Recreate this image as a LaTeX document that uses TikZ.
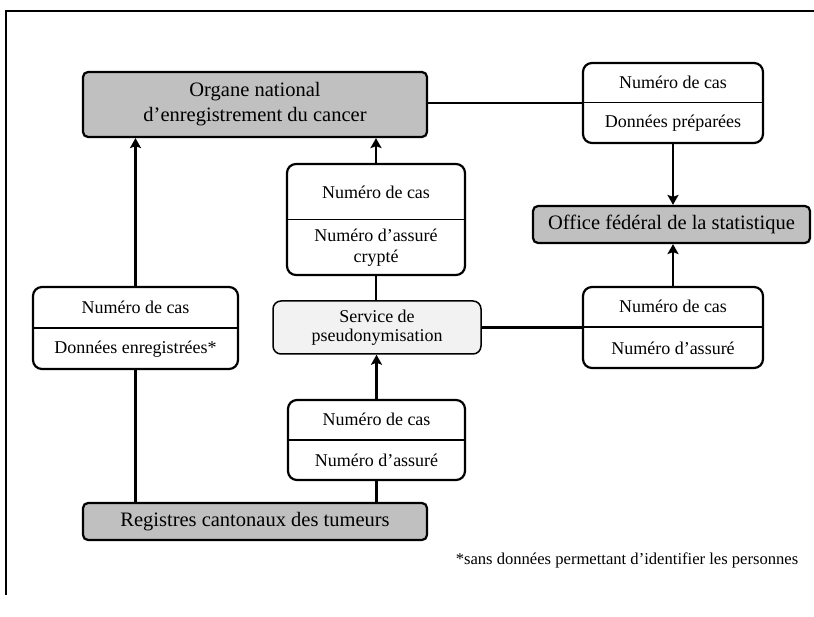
\documentclass[tikz,border=0pt]{standalone}
\usepackage{fontspec}
\setmainfont{Liberation Serif}
\usetikzlibrary{arrows.meta,calc}
\definecolor{boxgray}{HTML}{C0C0C0}
\definecolor{servgray}{HTML}{F2F2F2}
\begin{document}
\begin{tikzpicture}[x=1pt,y=-1pt,
  graybox/.style={draw,line width=2.2pt,fill=boxgray,rounded corners=5pt,inner sep=0pt,
    align=center,font=\fontsize{20.5}{25}\selectfont},
  whitebox/.style={draw,line width=2.2pt,fill=white,rounded corners=9pt,inner sep=0pt},
  servbox/.style={draw,line width=1.5pt,fill=servgray,rounded corners=8pt,inner sep=0pt,
    align=center,font=\fontsize{18}{18.5}\selectfont},
  wtxt/.style={inner sep=0pt,align=center,font=\fontsize{18}{21}\selectfont},
  conn/.style={line width=2.2pt},
  thickconn/.style={line width=3.2pt},
  arr/.style={-{Stealth[length=10pt,width=11pt,inset=2pt]}},
]
\useasboundingbox (0,0) rectangle (814,617);
% frame
\coordinate (frTL) at (6,11);
\coordinate (frTR) at (814,11);
\coordinate (frBL) at (6,595);
\draw[line width=2pt] (frBL) -- (frTL) -- (frTR);

% boxes
\node[graybox,minimum width=344pt,minimum height=65pt] (organe) at (255,104.5)
  {Organe national\\d’enregistrement du cancer};
\node[whitebox,minimum width=180pt,minimum height=80pt] (topr) at (673,103) {};
\node[graybox,minimum width=277pt,minimum height=37pt] (office) at (671.5,224.5)
  {Office fédéral de la statistique};
\node[whitebox,minimum width=178pt,minimum height=111pt] (mid) at (376,219.5) {};
\node[servbox,minimum width=208pt,minimum height=53pt] (serv) at (377,327.5)
  {Service de\\pseudonymisation};
\node[whitebox,minimum width=180pt,minimum height=81pt] (rbox) at (673,327.5) {};
\node[whitebox,minimum width=205pt,minimum height=82pt] (lbox) at (135.5,328) {};
\node[whitebox,minimum width=177pt,minimum height=80pt] (botbox) at (376.5,440) {};
\node[graybox,minimum width=344pt,minimum height=37pt] (reg) at (255,521.5)
  {Registres cantonaux des tumeurs};

% dividers
\draw[line width=1pt] (topr.west) -- (topr.east);
\draw[line width=1pt] (mid.west) -- (mid.east);
\draw[line width=2pt] (rbox.west) -- (rbox.east);
\draw[line width=2pt] (lbox.west) -- (lbox.east);
\draw[line width=2pt] (botbox.west) -- (botbox.east);

% texts in split boxes
\node[wtxt] (toprA) at ($(topr.north)!0.25!(topr.south)$) {Numéro de cas};
\node[wtxt] (toprB) at ($(topr.north)!0.75!(topr.south)$) {Données préparées};
\node[wtxt] (midA) at ($(mid.north)!0.26!(mid.south)$) {Numéro de cas};
\node[wtxt] (midB) at ($(mid.north)!0.75!(mid.south)$) {Numéro d’assuré\\crypté};
\node[wtxt] (rboxA) at ($(rbox.north)!0.25!(rbox.south)$) {Numéro de cas};
\node[wtxt] (rboxB) at ($(rbox.north)!0.75!(rbox.south)$) {Numéro d’assuré};
\node[wtxt] (lboxA) at ($(lbox.north)!0.25!(lbox.south)$) {Numéro de cas};
\node[wtxt] (lboxB) at ($(lbox.north)!0.75!(lbox.south)$) {Données enregistrées*};
\node[wtxt] (botA) at ($(botbox.north)!0.25!(botbox.south)$) {Numéro de cas};
\node[wtxt] (botB) at ($(botbox.north)!0.75!(botbox.south)$) {Numéro d’assuré};

% footnote
\node[inner sep=0pt,font=\fontsize{16.6}{19}\selectfont] (foot) at (627,560)
  {*sans données permettant d’identifier les personnes};

% connectors
\draw[conn,arr] (lbox.north) -- (lbox.north |- organe.south);
\draw[conn] (lbox.south) -- (lbox.south |- reg.north);
\draw[thickconn] (botbox.south) -- (botbox.south |- reg.north);
\draw[thickconn,arr] (botbox.north) -- (botbox.north |- serv.south);
\draw[conn] (serv.north -| mid.south) -- (mid.south);
\draw[conn,arr] (mid.north) -- (mid.north |- organe.south);
\draw[conn] (topr.west -| organe.east) -- (topr.west);
\draw[conn,arr] (topr.south) -- (topr.south |- office.north);
\draw[conn,arr] (rbox.north) -- (rbox.north |- office.south);
\draw[conn] (serv.east) -- (rbox.west);
\end{tikzpicture}
\end{document}
